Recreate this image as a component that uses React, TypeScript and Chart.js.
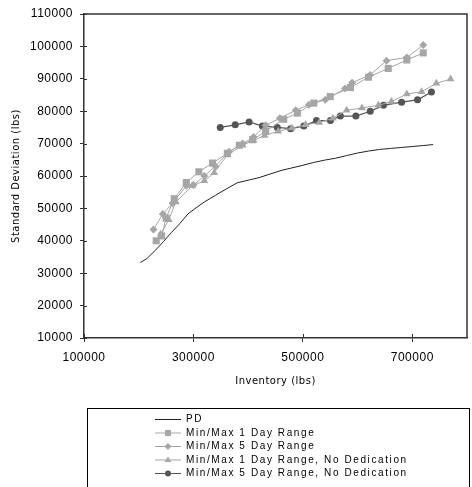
import React, { useEffect, useRef } from 'react';
import { Chart, registerables } from 'chart.js';

Chart.register(...registerables);

// ---- Data ----
const pdX = [203000, 215000, 230000, 245000, 260000, 275000, 290000, 305000, 320000, 340000, 360000, 380000, 400000, 420000, 440000, 460000, 480000, 500000, 520000, 540000, 560000, 580000, 600000, 620000, 640000, 660000, 680000, 700000, 720000, 738000];
const pdY = [33300, 34500, 37000, 39700, 42600, 45300, 48300, 50200, 52000, 54000, 56000, 57900, 58700, 59500, 60600, 61700, 62500, 63300, 64200, 64900, 65500, 66300, 67100, 67700, 68200, 68500, 68800, 69100, 69400, 69700];

const oneDayX = [232000, 242000, 250000, 265000, 287000, 310000, 335000, 362000, 384000, 408000, 432000, 465000, 490000, 520000, 550000, 587000, 620000, 656000, 690000, 720000];
const oneDayY = [40000, 41500, 47000, 53000, 58000, 61300, 64000, 67000, 69500, 71200, 73800, 77500, 79400, 82500, 84500, 87300, 90500, 93200, 95800, 98000];

const fiveDayX = [227000, 244000, 262000, 287000, 300000, 320000, 340000, 365000, 390000, 410000, 432000, 458000, 487000, 511000, 541000, 577000, 590000, 623000, 653000, 690000, 720000];
const fiveDayY = [43500, 48300, 51600, 57000, 57200, 60000, 63000, 67500, 70000, 72000, 75700, 77800, 80300, 82000, 83500, 87000, 88800, 91200, 95600, 96600, 100400];

const oneDayNoDedX = [240000, 255000, 268000, 298000, 320000, 338000, 362000, 390000, 410000, 430000, 455000, 480000, 505000, 530000, 555000, 580000, 608000, 638000, 662000, 690000, 717000, 744000, 770000];
const oneDayNoDedY = [42000, 46500, 52000, 57000, 58500, 61000, 66500, 69500, 71000, 72500, 73800, 74800, 75800, 76500, 77800, 80300, 81000, 81800, 83000, 85300, 86000, 88600, 89900];

const fiveDayNoDedX = [349000, 376400, 401800, 426000, 453300, 477600, 501800, 524900, 550400, 568500, 596900, 623100, 647300, 680500, 709600, 735100];
const fiveDayNoDedY = [75000, 75800, 76700, 75400, 75000, 74600, 75400, 77100, 77100, 78500, 78500, 80000, 81800, 82800, 83500, 85900];

const seriesNames = [
  'PD',
  'Min/Max 1 Day Range',
  'Min/Max 5 Day Range',
  'Min/Max 1 Day Range, No Dedication',
  'Min/Max 5 Day Range, No Dedication',
];

const xTicks = [100000, 300000, 500000, 700000];
const xMin = 100000;
const xMax = 800000;
const yMin = 10000;
const yMax = 110000;
const yStep = 10000;

const xTitle = 'Inventory (lbs)';
const yTitle = 'Standard Deviation (lbs)';

const GRAY = '#a6a6a6';
const DARK = '#555555';
const AXIS = '#333333';

const toPts = (xs: number[], ys: number[]) => xs.map((x, i) => ({ x, y: ys[i] }));

function drawMarker(ctx: CanvasRenderingContext2D, style: string, x: number, y: number, r: number) {
  ctx.beginPath();
  if (style === 'rect') {
    const s = Math.SQRT1_2 * r;
    ctx.rect(x - s, y - s, 2 * s, 2 * s);
  } else if (style === 'rectRot') {
    ctx.moveTo(x, y - r);
    ctx.lineTo(x + r, y);
    ctx.lineTo(x, y + r);
    ctx.lineTo(x - r, y);
    ctx.closePath();
  } else if (style === 'triangle') {
    ctx.moveTo(x, y - r);
    ctx.lineTo(x + r * 0.866, y + r * 0.5);
    ctx.lineTo(x - r * 0.866, y + r * 0.5);
    ctx.closePath();
  } else if (style === 'circle') {
    ctx.arc(x, y, r, 0, Math.PI * 2);
  }
  ctx.fill();
}

const framePlugin = {
  id: 'frameAndLegend',
  beforeDraw(chart: any) {
    chart.ctx.letterSpacing = '0.5px';
  },
  afterDraw(chart: any) {
    const ctx: CanvasRenderingContext2D = chart.ctx;
    const { left, right, top, bottom } = chart.chartArea;
    ctx.save();
    ctx.letterSpacing = '0px';
    // frame top and right
    ctx.strokeStyle = AXIS;
    ctx.lineWidth = 1.5;
    ctx.beginPath();
    ctx.moveTo(left, top);
    ctx.lineTo(right, top);
    ctx.lineTo(right, bottom);
    ctx.stroke();
    // inner part of tick marks
    ctx.lineWidth = 1;
    const xs = chart.scales.x;
    xs.ticks.forEach((t: any) => {
      const px = Math.round(xs.getPixelForValue(t.value)) + 0.5;
      ctx.beginPath();
      ctx.moveTo(px, bottom);
      ctx.lineTo(px, bottom - 4);
      ctx.stroke();
    });
    const ys = chart.scales.y;
    ys.ticks.forEach((t: any) => {
      const py = Math.round(ys.getPixelForValue(t.value)) + 0.5;
      ctx.beginPath();
      ctx.moveTo(left, py);
      ctx.lineTo(left + 3, py);
      ctx.stroke();
    });

    // legend box
    ctx.strokeStyle = '#000';
    ctx.lineWidth = 1;
    ctx.strokeRect(87.5, 408.5, 382, 100);
    const rowY = [419, 432.5, 446, 459.5, 473];
    ctx.font = '10px "Liberation Sans", Arial, sans-serif';
    ctx.textBaseline = 'middle';
    ctx.textAlign = 'left';
    (ctx as any).letterSpacing = '1.6px';
    chart.data.datasets.forEach((ds: any, i: number) => {
      const y = rowY[i] + 0.5;
      ctx.strokeStyle = ds.borderColor;
      ctx.lineWidth = 1;
      ctx.beginPath();
      ctx.moveTo(155, y);
      ctx.lineTo(181, y);
      ctx.stroke();
      if (ds.pointRadius > 0) {
        ctx.fillStyle = ds.pointBackgroundColor;
        drawMarker(ctx, ds.pointStyle, 168, y, ds.pointRadius * 0.85);
      }
      ctx.fillStyle = '#000';
      ctx.fillText(ds.label, 186, y);
    });
    ctx.restore();
    ctx.letterSpacing = '0px';
  },
};

const plainNumber = (v: any) => String(v);

export default function App() {
  const ref = useRef<HTMLCanvasElement>(null);
  useEffect(() => {
    if (!ref.current) return;
    const chart = new Chart(ref.current, {
      type: 'line',
      data: {
        datasets: [
          {
            label: seriesNames[0],
            data: toPts(pdX, pdY),
            borderColor: '#222222',
            borderWidth: 1,
            pointRadius: 0,
            pointStyle: 'circle',
            pointBackgroundColor: '#222222',
          },
          {
            label: seriesNames[1],
            data: toPts(oneDayX, oneDayY),
            borderColor: GRAY,
            borderWidth: 1,
            pointStyle: 'rect',
            pointRadius: 5,
            pointBackgroundColor: GRAY,
            pointBorderColor: GRAY,
            pointBorderWidth: 0,
          },
          {
            label: seriesNames[2],
            data: toPts(fiveDayX, fiveDayY),
            borderColor: GRAY,
            borderWidth: 1,
            pointStyle: 'rectRot',
            pointRadius: 4,
            pointBackgroundColor: GRAY,
            pointBorderColor: GRAY,
            pointBorderWidth: 0,
          },
          {
            label: seriesNames[3],
            data: toPts(oneDayNoDedX, oneDayNoDedY),
            borderColor: GRAY,
            borderWidth: 1,
            pointStyle: 'triangle',
            pointRadius: 4.5,
            pointBackgroundColor: GRAY,
            pointBorderColor: GRAY,
            pointBorderWidth: 0,
          },
          {
            label: seriesNames[4],
            data: toPts(fiveDayNoDedX, fiveDayNoDedY),
            borderColor: DARK,
            borderWidth: 1.2,
            pointStyle: 'circle',
            pointRadius: 3.5,
            pointBackgroundColor: DARK,
            pointBorderColor: DARK,
            pointBorderWidth: 0,
          },
        ],
      },
      options: {
        responsive: false,
        animation: false,
        events: [],
        layout: { padding: { left: 0, top: 14, right: 4, bottom: 89 } },
        plugins: {
          legend: { display: false },
          tooltip: { enabled: false },
        },
        scales: {
          x: {
            type: 'linear',
            min: xMin,
            max: xMax,
            afterBuildTicks: (scale: any) => {
              scale.ticks = xTicks.map((v) => ({ value: v }));
            },
            afterFit: (scale: any) => {
              scale.height = 60;
              scale.paddingLeft = 0;
              scale.paddingRight = 0;
            },
            grid: { drawOnChartArea: false, drawTicks: true, tickLength: 4, color: AXIS },
            border: { display: true, color: AXIS, width: 1.5 },
            ticks: {
              color: '#000',
              padding: 8,
              maxRotation: 0,
              autoSkip: false,
              callback: plainNumber,
              font: { family: '"Liberation Sans", Arial, sans-serif', size: 12 },
            },
            title: {
              display: true,
              text: xTitle,
              color: '#000',
              padding: { top: 0, bottom: 11 },
              font: { family: '"DejaVu Sans", Verdana, sans-serif', size: 10 },
            },
          },
          y: {
            type: 'linear',
            min: yMin,
            max: yMax,
            ticks: {
              stepSize: yStep,
              color: '#000',
              padding: 7,
              autoSkip: false,
              callback: plainNumber,
              font: { family: '"Liberation Sans", Arial, sans-serif', size: 12 },
            },
            afterFit: (scale: any) => {
              scale.width = 84;
              scale.paddingTop = 0;
              scale.paddingBottom = 0;
            },
            grid: { drawOnChartArea: false, drawTicks: true, tickLength: 4, color: AXIS },
            border: { display: true, color: AXIS, width: 1.5 },
            title: {
              display: true,
              text: yTitle,
              color: '#000',
              padding: { top: 10, bottom: 0 },
              font: { family: '"DejaVu Sans", Verdana, sans-serif', size: 10 },
            },
          },
        },
      },
      plugins: [framePlugin],
    });
    return () => chart.destroy();
  }, []);

  return (
    <div style={{ position: 'absolute', left: 0, top: 0, width: 472, height: 487, background: '#fff' }}>
      <canvas ref={ref} width={472} height={487} />
    </div>
  );
}
